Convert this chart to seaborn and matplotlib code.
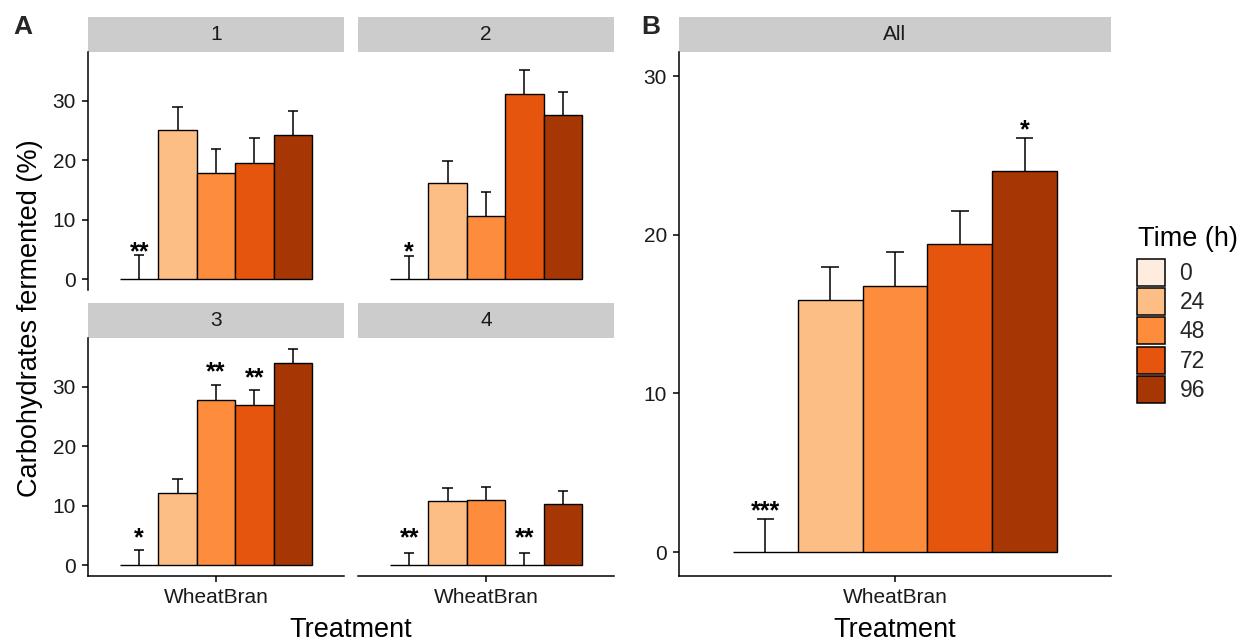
import numpy as np
import pandas as pd
import matplotlib
matplotlib.use("Agg")
import matplotlib.pyplot as plt
from matplotlib.patches import Patch
import seaborn as sns

# ---------------- data ----------------
times = ["0", "24", "48", "72", "96"]
treatment = "WheatBran"
colors = ["#FEEDDE", "#FDBE85", "#FD8D3C", "#E6550D", "#A63603"]

facet_names = ["1", "2", "3", "4"]
facet_means = {
    "1": [0.0, 25.0, 17.8, 19.6, 24.3],
    "2": [0.0, 16.1, 10.7, 31.1, 27.5],
    "3": [0.0, 12.1, 27.8, 26.9, 33.9],
    "4": [0.0, 10.8, 11.0, 0.0, 10.3],
}
facet_errs = {
    "1": [4.0, 4.0, 4.0, 4.1, 3.9],
    "2": [3.9, 3.8, 3.9, 4.0, 4.0],
    "3": [2.6, 2.3, 2.4, 2.5, 2.4],
    "4": [2.1, 2.1, 2.1, 2.1, 2.2],
}
facet_stars = {
    "1": ["**", "", "", "", ""],
    "2": ["*", "", "", "", ""],
    "3": ["*", "", "**", "**", ""],
    "4": ["**", "", "", "**", ""],
}
all_means = [0.0, 15.9, 16.8, 19.4, 24.0]
all_errs = [2.1, 2.1, 2.1, 2.1, 2.1]
all_stars = ["***", "", "", "", "*"]
yticks = [0, 10, 20, 30]

# ---------------- style ----------------
sns.set_theme(style="white")
plt.rcParams["font.family"] = ["Liberation Sans", "DejaVu Sans"]
plt.rcParams["axes.linewidth"] = 1.1

W, H = 1241, 641
fig = plt.figure(figsize=(W / 100, H / 100), dpi=100)


def box(l, t, r, b):
    return [l / W, 1 - b / H, (r - l) / W, (b - t) / H]


def strip(l, t, r, b, label):
    sax = fig.add_axes(box(l, t, r, b))
    sax.set_facecolor("#CCCCCC")
    for s in sax.spines.values():
        s.set_visible(False)
    sax.set_xticks([])
    sax.set_yticks([])
    sax.text(0.5, 0.5, label, ha="center", va="center", fontsize=15,
             color="#1A1A1A", transform=sax.transAxes)


def panel(rect, means, errs, stars, ylim, show_left, show_bottom, star_gap):
    ax = fig.add_axes(rect)
    df = pd.DataFrame({"Treatment": [treatment] * len(times),
                       "Time": times, "value": means})
    sns.barplot(data=df, x="Treatment", y="value", hue="Time",
                hue_order=times, palette=colors, width=0.9, saturation=1,
                edgecolor="black", linewidth=1.0, errorbar=None,
                legend=False, ax=ax, zorder=3)
    for cont, e, st in zip(ax.containers, errs, stars):
        p = cont.patches[0]
        cx = p.get_x() + p.get_width() / 2
        top = p.get_height()
        cw = p.get_width() * 0.135
        ax.vlines(cx, top, top + e, color="black", lw=1.1, zorder=2)
        ax.hlines(top + e, cx - cw, cx + cw, color="black", lw=1.1, zorder=2)
        if st:
            ax.annotate(st, (cx, top + star_gap), xytext=(0, -8.4),
                        textcoords="offset points", ha="center",
                        va="baseline", fontsize=18, fontweight="bold",
                        color="black")
    ax.set_xlim(-0.6, 0.6)
    ax.set_ylim(*ylim)
    ax.set_xlabel("")
    ax.set_ylabel("")
    ax.spines["top"].set_visible(False)
    ax.spines["right"].set_visible(False)
    ax.spines["left"].set_visible(show_left)
    ax.spines["bottom"].set_visible(show_bottom)
    for s in ("left", "bottom"):
        ax.spines[s].set_color("black")
    if show_left:
        ax.set_yticks(yticks)
        ax.tick_params(axis="y", left=True, length=4.3, width=1.1,
                       pad=4.5, labelsize=15, labelcolor="#1A1A1A",
                       color="black")
    else:
        ax.set_yticks([])
    if show_bottom:
        ax.tick_params(axis="x", bottom=True, length=4.3, width=1.1,
                       pad=4.5, labelsize=15, labelcolor="#1A1A1A",
                       color="black")
    else:
        ax.set_xticks([])
    ax.set_facecolor("white")
    return ax


ylimA = (-1.8, 38.1)
ylimB = (-1.5, 31.5)

# panel A facets
geo = {
    "1": (88, 52.3, 344, 290, True, False),
    "2": (358, 52.3, 614, 290, False, False),
    "3": (88, 338.3, 344, 576, True, True),
    "4": (358, 338.3, 614, 576, False, True),
}
for name in facet_names:
    l, t, r, b, sl, sb = geo[name]
    strip(l, t - 35, r, t, name)
    panel(box(l, t, r, b), facet_means[name], facet_errs[name],
          facet_stars[name], ylimA, sl, sb, 5.3)

# panel B
strip(679, 17.3, 1111, 52.3, "All")
panel(box(679, 52.3, 1111, 576), all_means, all_errs, all_stars, ylimB,
      True, True, 2.9)

# labels
fig.text(351 / W, 1 - 637 / H, "Treatment", ha="center", va="baseline",
         fontsize=19.5, color="black")
fig.text(895 / W, 1 - 637 / H, "Treatment", ha="center", va="baseline",
         fontsize=19.5, color="black")
fig.text(30 / W, 1 - 318 / H, "Carbohydrates fermented (%)", rotation=90,
         ha="center", va="center", fontsize=19.5, color="black")
fig.text(13 / W, 1 - 34 / H, "A", fontsize=19, fontweight="bold",
         ha="left", va="baseline")
fig.text(641 / W, 1 - 34 / H, "B", fontsize=19, fontweight="bold",
         ha="left", va="baseline")

# legend
fig.text(1138 / W, 1 - 246 / H, "Time (h)", fontsize=19.5, ha="left",
         va="baseline", color="black")
handles = [Patch(facecolor=c, edgecolor="black", linewidth=1.1) for c in colors]
leg = fig.legend(handles, times, loc="upper left",
                 bbox_to_anchor=(1137 / W, 1 - 259 / H), frameon=False,
                 fontsize=16.5, handlelength=1.2,
                 handleheight=1.43, labelspacing=0.1, handletextpad=0.65,
                 borderpad=0, borderaxespad=0)

fig.savefig("out.png", dpi=100)
